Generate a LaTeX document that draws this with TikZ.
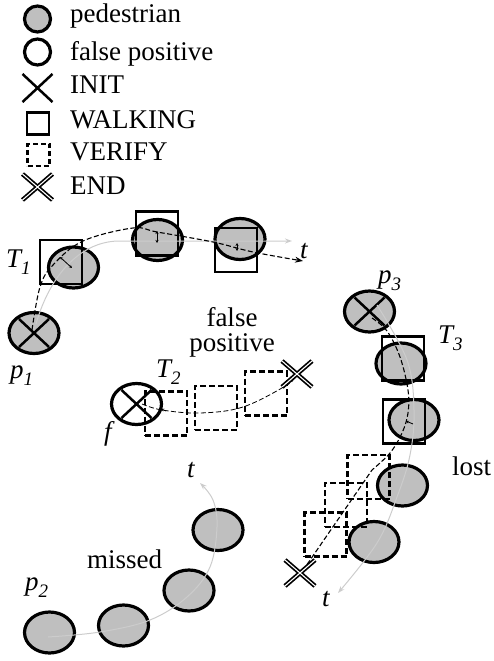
\documentclass[tikz,border=0pt]{standalone}
\usepackage{fontspec}
\setmainfont{Liberation Serif}
\usetikzlibrary{shapes.geometric,arrows.meta}
\definecolor{pedgrey}{gray}{0.75}
\definecolor{pathgrey}{gray}{0.80}
\newcommand{\lowsub}[1]{\raisebox{-0.28em}{\fontsize{19}{19}\selectfont #1}}
\begin{document}
\begin{tikzpicture}[x=1pt,y=-1pt,
  ped/.style={ellipse,draw=black,line width=3.2pt,fill=pedgrey,
    minimum width=50pt,minimum height=41pt,inner sep=0pt},
  fp/.style={ped,fill=white},
  walkbox/.style={rectangle,draw=black,line width=2.4pt,
    minimum width=42pt,minimum height=44pt,inner sep=0pt},
  verifybox/.style={walkbox,dash pattern=on 6pt off 3pt},
  truepath/.style={draw=pathgrey,line width=1pt,
    -{Stealth[length=7pt,width=5pt,open]}},
  track/.style={draw=black,line width=1.1pt,dash pattern=on 5pt off 2.5pt},
  disp/.style={draw=black,line width=0.8pt,
    {Stealth[length=3pt,width=3pt]}-{Stealth[length=3pt,width=3pt]}},
  lbl/.style={font=\fontsize{27}{30}\selectfont,inner sep=0pt},
  initx/.pic={\draw[line width=2.5pt] (-15,-14) -- (15,14) (-15,14) -- (15,-14);},
  endx/.pic={\draw[line width=1.7pt,double=white,double distance=1.1pt]
    (-15,-13) -- (15,13) (-15,13) -- (15,-13);},
]
\useasboundingbox (0,0) rectangle (494,661);

% ---------- legend ----------
\node[ped,minimum width=26pt,minimum height=26pt] (legped) at (37.5,19) {};
\node[fp,minimum width=26pt,minimum height=26pt] (legfp) at (37.5,52) {};
\pic at (37.5,88) {initx};
\node[walkbox,minimum width=22pt,minimum height=22pt] (legwalk) at (38,123.5) {};
\node[verifybox,dash pattern=on 5pt off 3pt,minimum width=22pt,minimum height=22pt] (legver) at (38.5,155) {};
\pic at (37.5,187) {endx};
\node[lbl,anchor=base west] (tped)  at (70,23)  {pedestrian};
\node[lbl,anchor=base west] (tfp)   at (70,60)  {false positive};
\node[lbl,anchor=base west] (tinit) at (70,93)  {INIT};
\node[lbl,anchor=base west] (twalk) at (70,128) {WALKING};
\node[lbl,anchor=base west] (tver)  at (70,160) {VERIFY};
\node[lbl,anchor=base west] (tend)  at (70,194) {END};

% ---------- track T1 (pedestrian p1) ----------
\node[ped] (p1) at (34,333) {};
\pic at (34,333) {initx};
\node[ped] (a2) at (73.5,267.5) {};
\node[ped] (a3) at (157.5,240) {};
\node[ped] (a4) at (240,239) {};
\node[walkbox] (w1) at (61,262) {};
\node[walkbox] (w2) at (157,233.5) {};
\node[walkbox] (w3) at (236,250) {};
\draw[truepath] (36,324) .. controls (50,275) and (80,242) .. (118,241) -- (292,241);
\draw[track,-{Stealth[length=8pt,width=6pt]}] plot[smooth,tension=0.6] coordinates
  {(32,330) (40,287) (53,265) (83,241) (133,228) (157,232) (213,242) (253,252) (303,261)};
\draw[disp] (60,257) -- (72,268);
\draw[disp] (157,231) -- (157,243);
\draw[disp] (237,243) -- (237,251);
\node[lbl,anchor=base west] (lT1) at (6,267) {\textit{T\lowsub{1}}};
\node[lbl,anchor=base west] (lp1) at (10,378) {\textit{p\lowsub{1}}};
\node[lbl,anchor=base west] (lt1) at (300,258) {\textit{t}};

% ---------- track T2 (false positive f) ----------
\node[fp] (f) at (136.5,404) {};
\pic at (136.5,404) {initx};
\node[verifybox] (v1) at (166,413.5) {};
\node[verifybox] (v2) at (216,408) {};
\node[verifybox] (v3) at (266,393.5) {};
\pic at (297,374) {endx};
\draw[track,line width=0.8pt] plot[smooth,tension=0.6] coordinates
  {(142,404) (162,410) (200,413) (243,407) (287,385) (295,376)};
\draw[black,line width=0.8pt,-{Stealth[length=3pt,width=3pt]}] (166,411) -- (161,409);
\node[lbl,anchor=base west] (lT2) at (156,377) {\textit{T\lowsub{2}}};
\node[lbl,anchor=base west] (lf) at (104,440) {\textit{f}};
\node[lbl,font=\fontsize{27}{25}\selectfont,align=center,anchor=north] (lfalsepos) at (232,307) {false\\positive};

% ---------- track T3 (pedestrian p3, lost) ----------
\node[ped] (p3) at (369.5,311.5) {};
\pic at (369.5,311.5) {initx};
\node[ped] (c2) at (401,363.5) {};
\node[ped] (c3) at (414,420) {};
\node[ped] (c4) at (402.5,485.5) {};
\node[ped] (c5) at (374,542) {};
\node[walkbox] (w4) at (403,358.5) {};
\node[walkbox] (w5) at (404,421.5) {};
\node[verifybox] (v4) at (368.5,477) {};
\node[verifybox] (v5) at (346,505) {};
\node[verifybox] (v6) at (325.5,534.5) {};
\pic at (300,573) {endx};
\draw[truepath] plot[smooth,tension=0.6] coordinates
  {(377,305) (407,360) (414,410) (410,455) (397,497) (377,543) (338,593)};
\draw[track] plot[smooth,tension=0.6] coordinates
  {(372,318) (387,331) (400,357) (408,390) (408,413) (402,433) (390,453) (372,470)}
  -- (306,566);
\draw[black,line width=0.8pt,-{Stealth[length=3pt,width=3pt]}] (413,424) -- (406,421);
\node[lbl,anchor=base west] (lT3) at (438,343) {\textit{T\lowsub{3}}};
\node[lbl,anchor=base west] (lp3) at (378,283) {\textit{p\lowsub{3}}};
\node[lbl,anchor=base west] (lt3) at (322,606) {\textit{t}};
\node[lbl,anchor=base west] (llost) at (452,475) {lost};

% ---------- pedestrian p2 (missed) ----------
\node[ped] (m1) at (49.5,632.5) {};
\node[ped] (m2) at (123.5,625.5) {};
\node[ped] (m3) at (189,590.5) {};
\node[ped] (m4) at (218,530) {};
\draw[truepath] plot[smooth,tension=0.6] coordinates
  {(48,637) (100,632) (150,620) (187,597) (210,567) (217,527) (213,500) (200,483)};
\node[lbl,anchor=base west] (lp2) at (25,590) {\textit{p\lowsub{2}}};
\node[lbl,anchor=base west] (lt2) at (187,477) {\textit{t}};
\node[lbl,anchor=base west] (lmissed) at (87,568) {missed};
\end{tikzpicture}
\end{document}
